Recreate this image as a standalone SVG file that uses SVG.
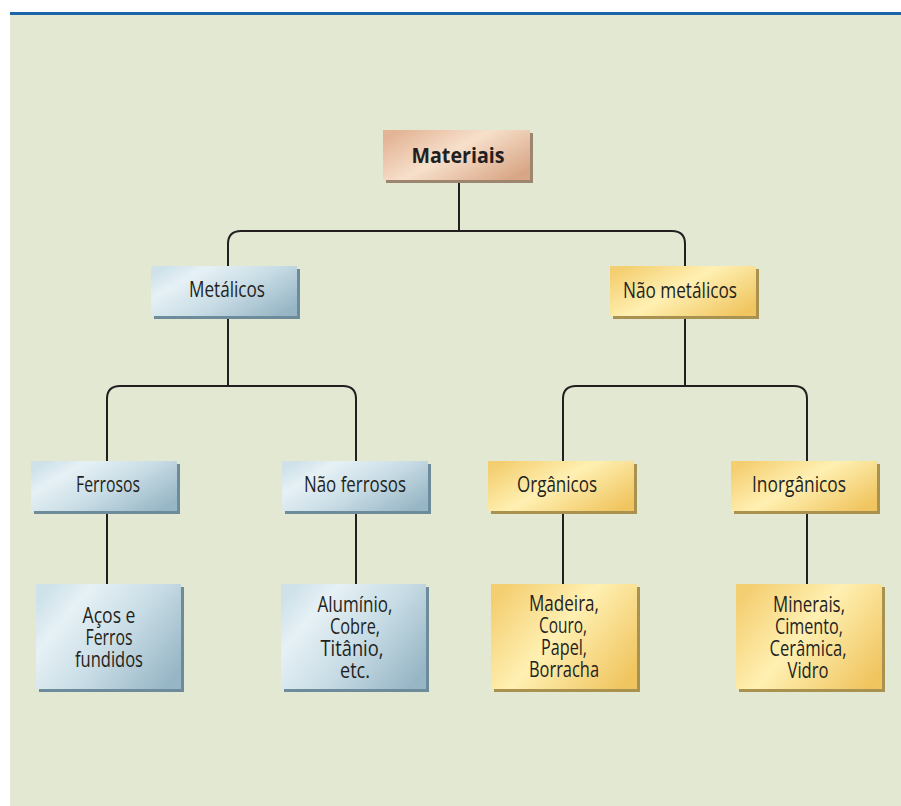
<svg xmlns="http://www.w3.org/2000/svg" width="901" height="806" viewBox="0 0 901 806">
<defs>
<linearGradient id="gBlue" x1="0" y1="0.2" x2="1" y2="0.8">
<stop offset="0" stop-color="#cfe2ea"/>
<stop offset="0.2" stop-color="#e6f1f5"/>
<stop offset="0.55" stop-color="#c9dde6"/>
<stop offset="1" stop-color="#97b6c5"/>
</linearGradient>
<linearGradient id="gYellow" x1="0" y1="0.2" x2="1" y2="0.8">
<stop offset="0" stop-color="#f4cf72"/>
<stop offset="0.45" stop-color="#fff0b2"/>
<stop offset="1" stop-color="#f0c560"/>
</linearGradient>
<linearGradient id="gPeach" x1="0" y1="0.2" x2="1" y2="0.8">
<stop offset="0" stop-color="#e3b496"/>
<stop offset="0.45" stop-color="#f7e0cb"/>
<stop offset="1" stop-color="#d8a585"/>
</linearGradient>
</defs>
<style>
.sb{fill:#6d8b9b}
.sy{fill:#a99150}
.sp{fill:#9c8670}
.b{fill:url(#gBlue)}
.y{fill:url(#gYellow)}
.p{fill:url(#gPeach)}
text{font-family:"Open Sans","Noto Sans","Liberation Sans",sans-serif;font-size:21px;fill:#231f20;text-anchor:middle}
.bold{font-weight:bold}
.con path{fill:none;stroke:#231f20;stroke-width:2}
</style>
<rect x="0" y="0" width="901" height="806" fill="#ffffff"/>
<rect x="10" y="15" width="891" height="791" fill="#e3e8d2"/>
<rect x="10" y="12" width="891" height="3" fill="#1a66a8"/>

<g class="con" id="connectors">
<path d="M459,180 V231"/>
<path d="M228,266 V244 Q228,231 241,231 H672 Q685,231 685,244 V266"/>
<path d="M228,316 V386"/>
<path d="M107,461 V399 Q107,386 120,386 H343 Q356,386 356,399 V461"/>
<path d="M685,316 V386"/>
<path d="M563,461 V399 Q563,386 576,386 H794 Q807,386 807,399 V461"/>
<path d="M107,511 V584"/>
<path d="M356,511 V584"/>
<path d="M563,511 V584"/>
<path d="M807,511 V584"/>
</g>

<g id="materiais">
<rect class="sp" x="386" y="133" width="147" height="50"/>
<rect class="p" x="383" y="130" width="147" height="50"/>
<text class="bold" x="458" y="163" textLength="93" lengthAdjust="spacingAndGlyphs">Materiais</text>
</g>

<g id="metalicos">
<rect class="sb" x="154" y="269" width="146" height="50"/>
<rect class="b" x="151" y="266" width="146" height="50"/>
<text x="227" y="297" textLength="76" lengthAdjust="spacingAndGlyphs">Metálicos</text>
</g>

<g id="nao-metalicos">
<rect class="sy" x="613" y="269" width="146" height="50"/>
<rect class="y" x="610" y="266" width="146" height="50"/>
<text x="680" y="298" textLength="114" lengthAdjust="spacingAndGlyphs">Não metálicos</text>
</g>

<g id="ferrosos">
<rect class="sb" x="34" y="464" width="146" height="50"/>
<rect class="b" x="31" y="461" width="146" height="50"/>
<text x="108" y="492" textLength="64" lengthAdjust="spacingAndGlyphs">Ferrosos</text>
</g>

<g id="nao-ferrosos">
<rect class="sb" x="285" y="464" width="146" height="50"/>
<rect class="b" x="282" y="461" width="146" height="50"/>
<text x="355" y="492" textLength="102" lengthAdjust="spacingAndGlyphs">Não ferrosos</text>
</g>

<g id="organicos">
<rect class="sy" x="491" y="464" width="146" height="50"/>
<rect class="y" x="488" y="461" width="146" height="50"/>
<text x="557" y="492" textLength="80" lengthAdjust="spacingAndGlyphs">Orgânicos</text>
</g>

<g id="inorganicos">
<rect class="sy" x="734" y="464" width="146" height="50"/>
<rect class="y" x="731" y="461" width="146" height="50"/>
<text x="799" y="492" textLength="94" lengthAdjust="spacingAndGlyphs">Inorgânicos</text>
</g>

<g id="acos">
<rect class="sb" x="39" y="587" width="145" height="105"/>
<rect class="b" x="36" y="584" width="145" height="105"/>
<text x="109" y="623" textLength="53" lengthAdjust="spacingAndGlyphs">Aços e</text>
<text x="109" y="645" textLength="47" lengthAdjust="spacingAndGlyphs">Ferros</text>
<text x="109" y="667" textLength="68" lengthAdjust="spacingAndGlyphs">fundidos</text>
</g>

<g id="aluminio">
<rect class="sb" x="284" y="587" width="145" height="105"/>
<rect class="b" x="281" y="584" width="145" height="105"/>
<text x="355" y="612" textLength="75" lengthAdjust="spacingAndGlyphs">Alumínio,</text>
<text x="355" y="634" textLength="50" lengthAdjust="spacingAndGlyphs">Cobre,</text>
<text x="352" y="656" textLength="63" lengthAdjust="spacingAndGlyphs">Titânio,</text>
<text x="355" y="678" textLength="30" lengthAdjust="spacingAndGlyphs">etc.</text>
</g>

<g id="madeira">
<rect class="sy" x="494" y="587" width="146" height="105"/>
<rect class="y" x="491" y="584" width="146" height="105"/>
<text x="564" y="611" textLength="70" lengthAdjust="spacingAndGlyphs">Madeira,</text>
<text x="563" y="633" textLength="48" lengthAdjust="spacingAndGlyphs">Couro,</text>
<text x="564" y="655" textLength="46" lengthAdjust="spacingAndGlyphs">Papel,</text>
<text x="564" y="677" textLength="70" lengthAdjust="spacingAndGlyphs">Borracha</text>
</g>

<g id="minerais">
<rect class="sy" x="739" y="587" width="146" height="105"/>
<rect class="y" x="736" y="584" width="146" height="105"/>
<text x="809" y="612" textLength="72" lengthAdjust="spacingAndGlyphs">Minerais,</text>
<text x="809" y="634" textLength="68" lengthAdjust="spacingAndGlyphs">Cimento,</text>
<text x="808" y="656" textLength="77" lengthAdjust="spacingAndGlyphs">Cerâmica,</text>
<text x="808" y="678" textLength="41" lengthAdjust="spacingAndGlyphs">Vidro</text>
</g>
</svg>
